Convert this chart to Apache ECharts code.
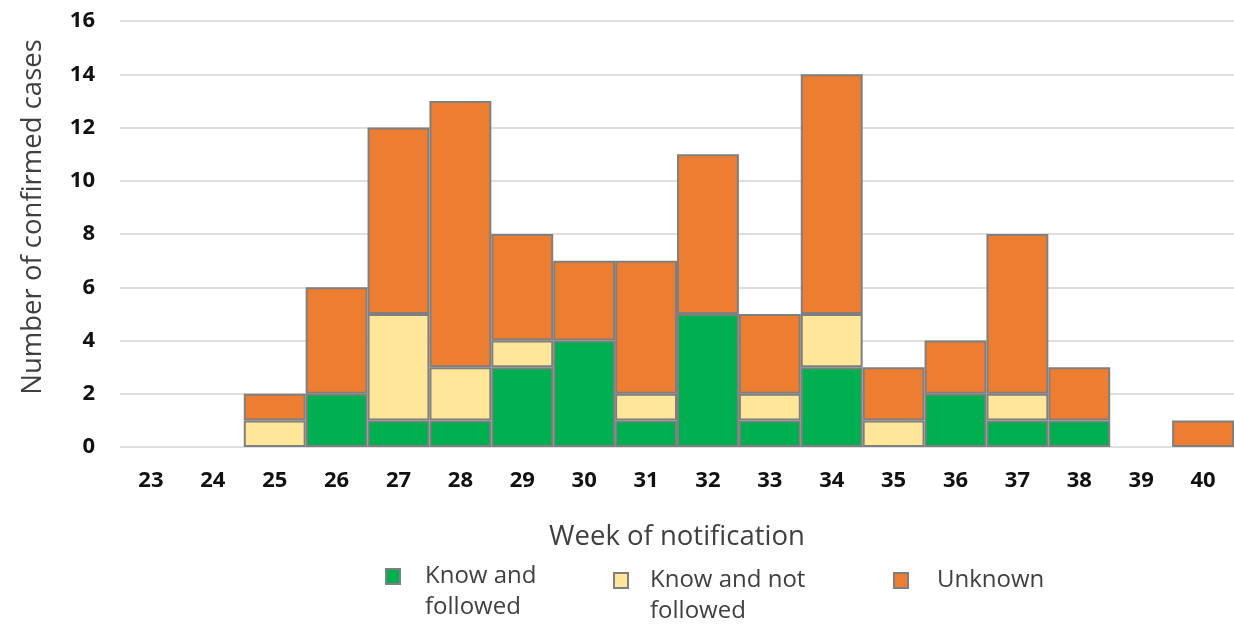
<!DOCTYPE html>
<html>
<head>
<meta charset="utf-8">
<script src="https://cdn.jsdelivr.net/npm/echarts@6/dist/echarts.min.js"></script>
<style>
  html, body { margin: 0; padding: 0; background: #fff; }
  #chart { width: 1234px; height: 624px; }
</style>
</head>
<body>
<div id="chart"></div>
<script>
// Weeks of notification
const weeks = ['23','24','25','26','27','28','29','30','31','32','33','34','35','36','37','38','39','40'];
// Confirmed cases per week, by category
const knowFollowed    = [0,0,0,2,1,1,3,4,1,5,1,3,0,2,1,1,0,0];
const knowNotFollowed = [0,0,1,0,4,2,1,0,1,0,1,2,1,0,1,0,0,0];
const unknown         = [0,0,1,4,7,10,4,3,5,6,3,9,2,2,6,2,0,1];
const yTicks = [0,2,4,6,8,10,12,14,16];

const FONT = '"Open Sans", "Noto Sans", sans-serif';
const BORDER = '#7f7f7f';

// empty segments are skipped so they draw no outline
const seg = arr => arr.map(v => (v === 0 ? null : v));

function series(name, data, color) {
  return {
    name, type: 'bar', stack: 'cases', data: seg(data),
    barCategoryGap: '0%',
    itemStyle: { color, borderColor: BORDER, borderWidth: 2 },
    emphasis: { disabled: true }
  };
}

// one legend block per entry; a leading blank line keeps the swatch level with the first text line
function legendItem(name, label, left, top, gap) {
  return {
    data: [name], left, top, padding: 0,
    itemWidth: 14, itemHeight: 15, itemGap: 0,
    selectedMode: false,
    icon: 'rect',
    itemStyle: { borderColor: BORDER, borderWidth: 2 },
    formatter: () => label,
    textStyle: {
      fontFamily: FONT, fontSize: 24, color: '#404040',
      lineHeight: 31, padding: [0, 0, 0, gap]
    }
  };
}

const chart = echarts.init(document.getElementById('chart'), null, { renderer: 'canvas' });
chart.setOption({
  animation: false,
  backgroundColor: '#fff',
  grid: { left: 120, top: 21, width: 1120, height: 426, containLabel: false },
  xAxis: {
    type: 'category', data: weeks,
    axisLine: { show: false }, axisTick: { show: false },
    axisLabel: { margin: 23, fontFamily: FONT, fontSize: 22, fontWeight: 'bold', color: '#111' },
    name: 'Week of notification', nameLocation: 'middle', nameGap: 76,
    nameTextStyle: { fontFamily: FONT, fontSize: 27.5, color: '#404040' }
  },
  yAxis: {
    type: 'value', min: yTicks[0], max: yTicks[yTicks.length - 1], interval: 2,
    axisLine: { show: false }, axisTick: { show: false },
    axisLabel: { margin: 25, fontFamily: FONT, fontSize: 22, fontWeight: 'bold', color: '#111' },
    splitLine: { lineStyle: { color: '#d4d4d4', width: 1.5 } }
  },
  graphic: [{
    type: 'text', rotation: Math.PI / 2, x: 33, y: 217,
    style: {
      text: 'Number of confirmed cases', fontFamily: FONT, fontSize: 27.5, fill: '#404040',
      align: 'center', verticalAlign: 'middle'
    }
  }],
  legend: [
    legendItem('Know and followed', '\nKnow and\nfollowed', 385, 530, 20),
    legendItem('Know and not followed', '\nKnow and not\nfollowed', 613, 534, 17),
    legendItem('Unknown', 'Unknown', 893, 565, 24)
  ],
  series: [
    series('Know and followed', knowFollowed, '#00b050'),
    series('Know and not followed', knowNotFollowed, '#ffe699'),
    series('Unknown', unknown, '#ed7d31')
  ]
});
</script>
</body>
</html>
